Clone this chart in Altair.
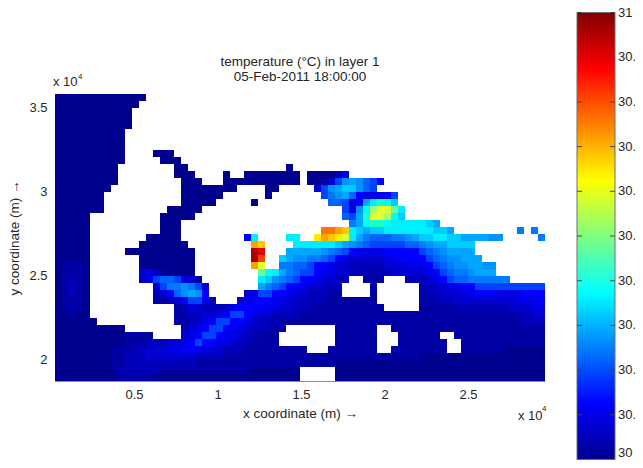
import altair as alt
import pandas as pd

X_RANGE = [270, 29610]
Y_RANGE = [18686, 35831]
X_TICKS = [5000, 10000, 15000, 20000, 25000]
Y_TICKS = [20000, 25000, 30000, 35000]
CB_TICKS = [31, 30.9, 30.8, 30.7, 30.6, 30.5, 30.4, 30.3, 30.2, 30.1]
CB_LABELS = ["31", "30.9", "30.8", "30.7", "30.6", "30.5", "30.4", "30.3", "30.2", "30.1"]
CB_BOTTOM_TICK = [30]
CB_BOTTOM_LABEL = ["30"]
JET_DOMAIN = [30, 30.125, 30.375, 30.625, 30.875, 31]
JET_COLORS = ["#00008f", "#0000ff", "#00ffff", "#ffff00", "#ff0000", "#800000"]

CODES = {
    "0": 30.0, "1": 30.025, "2": 30.05, "3": 30.075, "4": 30.1, "5": 30.125, "6": 30.15,
    "7": 30.175, "8": 30.2, "9": 30.225, "a": 30.25, "b": 30.3, "c": 30.35, "d": 30.4,
    "e": 30.45, "f": 30.5, "g": 30.55, "h": 30.6, "i": 30.65, "j": 30.7, "k": 30.75,
    "l": 30.8, "m": 30.85, "n": 30.9, "o": 30.95, "p": 31.0,
}
NCOL = 70
# temperature codes read row by row from the top; "." is dry land, "n*c" repeats a code
ROWS = [
    "13*0 57*.",
    "12*0 58*.",
    "11*0 59*.",
    "11*0 59*.",
    "11*0 59*.",
    "10*0 60*.",
    "10*0 60*.",
    "10*0 60*.",
    "10*0 4*. 3*0 53*.",
    "10*0 5*. 3*0 52*.",
    "9*0 8*. 2*0 14*. 0 36*.",
    "9*0 8*. 3*0 4*. 0 2*. 8*0 . 000024 28*.",
    "9*0 9*. 3*0 3*. 11*0 . 001369a9765 23*.",
    "8*0 10*. 8*0 4*. 2*0 5*. 36 9abb97 6 23*.",
    "7*0 11*. 6*0 6*. 0 7*. 689a7544456 21*.",
    "7*0 11*. 5*0 5*. 0 10*. 776 45aced b 21*.",
    "7*0 9*. 5*0 20*. 6 49dghhf c 21*.",
    "5*0 10*. 5*0 21*. 76aehhgdb 20*.",
    "5*0 10*. 3*0 24*. 8adeedcccccba 15*.",
    "5*0 10*. 3*0 20*. llkj cbabbcccccccbba 9*. 8 . 8 .",
    "5*0 8*. 5*0 9*. 5c 4*. cc .. ikjih ca8777889abbccbbaaaa99 5*. 8",
    "5*0 7*. 7*0 9*. kj 4*. ccccccba9876666677 89aabbbb 10*. 8",
    "5*0 5*. 10*0 8*. on 3*. aaaaa98765444455555678 9aaaa 10*. 7",
    "5*0 7*. 8*0 8*. om 2*. ba998876543333344555567 8 99aaa 9*.",
    "01110 7*. 8*0 8*. kh 2*. 8877655433222223334445 6 789 9aa99 7*.",
    "01110 7*. 34210000 9*. fdca8766544332 2212233333 4 5678 89 aaa 7*.",
    "01210 7*. 246776431 8*. cb98765543322 2*. 111 3*. 222345677888888 5*.",
    "01210 9*. 36889863 7*. a87655433222 4*. 1 6*. 223344556666666666",
    "01210 9*. 23579a95 5*. 34665543322211 4*. 1 6*. 122333445554444555",
    "01110 9*. 112356642 3*. 34555443322211111111 6*. 112223333333334445",
    "01110 12*. 123322234555544332221111111111 5*. 11111 22222222 333 44",
    "00100 12*. 11223345665433222211 29*1 2233",
    "6*0 11*. 11234566554322211 32*1 1222",
    "10*0 8*. 234566544322211 7*. 6*1 2*. 22*1",
    "10*0 1111 4*. 34566544322111 8*. 6*1 3*. 6*1 2*. 13*1",
    "10*0 1112223345655443221111 8*. 6*1 3*. 7*1 2*. 12*1",
    "8*0 1112233344554433222111111111 3*. 7*1 2*. 8*1 2*. 6*1 6*0",
    "8*0 1122233333332222 28*1 18*0",
    "8*0 112222222222 20*1 30*0",
    "8*0 1222222111 10*1 7*0 5*. 30*0",
    "9*0 11111 21*0 5*. 30*0",
]


def expand(row):
    out = ""
    for tok in row.split():
        if "*" in tok:
            n, c = tok.split("*")
            out += c * int(n)
        else:
            out += tok
    return out.ljust(NCOL, ".")[:NCOL]


dx = (X_RANGE[1] - X_RANGE[0]) / NCOL
dy = (Y_RANGE[1] - Y_RANGE[0]) / len(ROWS)
cells = []
for r, row in enumerate(ROWS):
    for c, ch in enumerate(expand(row)):
        if ch != ".":
            cells.append(
                dict(
                    x=X_RANGE[0] + c * dx,
                    x2=X_RANGE[0] + (c + 1) * dx,
                    y=Y_RANGE[1] - r * dy,
                    y2=Y_RANGE[1] - (r + 1) * dy,
                    t=CODES[ch],
                )
            )
cells = pd.DataFrame(cells)

FONT = "Liberation Sans"
TXT = "#262626"
W, H = 627, 452

jet = alt.Scale(domain=JET_DOMAIN, range=JET_COLORS, clamp=True)

heat = (
    alt.Chart(cells)
    .mark_rect()
    .encode(
        x=alt.X(
            "x:Q",
            scale=alt.Scale(domain=X_RANGE, range=[47, 537], nice=False, zero=False),
            axis=alt.Axis(
                values=X_TICKS,
                labelExpr="datum.value / 10000",
                title="x coordinate (m) →",
                offset=-79,
                grid=False,
                ticks=False,
                domainColor="#8c8c9c",
                labelFont=FONT,
                labelFontSize=13,
                labelColor=TXT,
                labelPadding=7,
                titleFont=FONT,
                titleFontSize=13.5,
                titleFontWeight="normal",
                titleColor=TXT,
                titlePadding=5,
            ),
        ),
        x2="x2:Q",
        y=alt.Y(
            "y:Q",
            scale=alt.Scale(domain=Y_RANGE, range=[373, 86], nice=False, zero=False),
            axis=alt.Axis(
                values=Y_TICKS,
                labelExpr="datum.value / 10000",
                title="y coordinate (m) →",
                offset=-47,
                grid=False,
                ticks=False,
                domainColor="#8c8c9c",
                labelFont=FONT,
                labelFontSize=13,
                labelColor=TXT,
                labelPadding=8,
                titleFont=FONT,
                titleFontSize=13.5,
                titleFontWeight="normal",
                titleColor=TXT,
                titlePadding=7,
            ),
        ),
        y2="y2:Q",
        color=alt.Color("t:Q", scale=jet, legend=None),
    )
)


def note(text, x, y, size=13, align="left"):
    return (
        alt.Chart(pd.DataFrame({"t": [text]}))
        .mark_text(font=FONT, fontSize=size, color=TXT, align=align, baseline="middle")
        .encode(x=alt.value(x), y=alt.value(y), text="t:N")
    )


notes = [
    note("temperature (°C) in layer 1", 292, 54, size=13.5, align="center"),
    note("05-Feb-2011 18:00:00", 292, 69, size=13.5, align="center"),
    note("x 10", 45, 74),
    note("4", 70, 69, size=8),
    note("x 10", 510, 408),
    note("4", 534, 401, size=8),
]

cb_y = alt.Scale(domain=[30, 31], range=[451.5, 4.5], nice=False, zero=False)
bar = (
    alt.Chart(pd.DataFrame({"lo": [30], "hi": [31]}))
    .mark_rect(
        color=alt.LinearGradient(
            gradient="linear",
            x1=0,
            x2=0,
            y1=1,
            y2=0,
            stops=[
                alt.GradientStop(offset=(d - 30), color=c)
                for d, c in zip(JET_DOMAIN, JET_COLORS)
            ],
        ),
        stroke="#6e6e6e",
        strokeWidth=1,
    )
    .encode(
        x=alt.value(569),
        x2=alt.value(607),
        y=alt.Y("lo:Q", scale=cb_y, axis=None),
        y2="hi:Q",
    )
)
cb_df = pd.DataFrame({"v": CB_TICKS, "s": CB_LABELS})
cb_low = pd.DataFrame({"v": CB_BOTTOM_TICK, "s": CB_BOTTOM_LABEL})
tick_l = (
    alt.Chart(cb_df)
    .mark_rule(color="#444444", strokeWidth=1)
    .encode(x=alt.value(569), x2=alt.value(574), y=alt.Y("v:Q", scale=cb_y, axis=None))
)
tick_r = (
    alt.Chart(cb_df)
    .mark_rule(color="#444444", strokeWidth=1)
    .encode(x=alt.value(602), x2=alt.value(607), y=alt.Y("v:Q", scale=cb_y, axis=None))
)
cb_text = (
    alt.Chart(cb_df)
    .mark_text(font=FONT, fontSize=13, color=TXT, align="left", baseline="middle", clip=True)
    .encode(x=alt.value(610), y=alt.Y("v:Q", scale=cb_y, axis=None), text="s:N")
)
cb_text_low = (
    alt.Chart(cb_low)
    .mark_text(font=FONT, fontSize=13, color=TXT, align="left", baseline="bottom")
    .encode(x=alt.value(610), y=alt.Y("v:Q", scale=cb_y, axis=None), text="s:N")
)

chart = (
    alt.layer(heat, *notes, bar, tick_l, tick_r, cb_text, cb_text_low)
    .resolve_scale(x="independent", y="independent", color="shared")
    .properties(
        width=W,
        height=H,
        padding=0,
        autosize=alt.AutoSizeParams(type="none"),
        background="white",
    )
    .configure_view(stroke=None)
)
chart.save("out.html", embed_options={"renderer": "svg", "actions": False})
